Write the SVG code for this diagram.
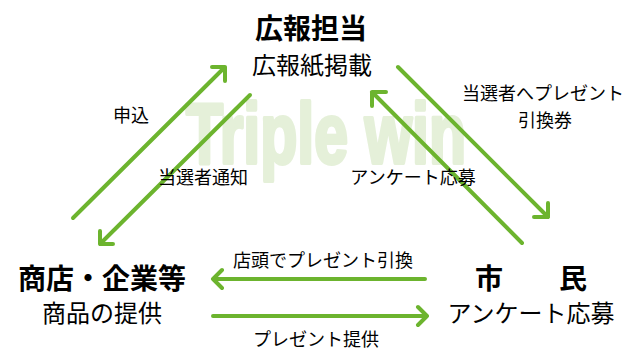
<svg xmlns="http://www.w3.org/2000/svg" width="635" height="361" viewBox="0 0 635 361">
<defs>
<style>
.t{font-family:"Noto Sans CJK JP","Noto Sans",sans-serif;fill:#000;text-anchor:middle}
.h{font-size:28px;font-weight:700}
.s{font-size:24px}
.l{font-size:18px}
.c{fill:none;stroke:#6cb42e;stroke-width:4;stroke-linecap:round;stroke-linejoin:round}
.wm{font-family:"Liberation Sans",Arial,sans-serif;font-weight:700;font-size:86px;fill:#e5f0d9;stroke:#e5f0d9;stroke-width:4;stroke-linejoin:round}
</style>
</defs>
<rect width="635" height="361" fill="#fff"/>
<text class="wm" x="186" y="163" textLength="280" lengthAdjust="spacingAndGlyphs">Triple win</text>
<g id="connectors">
<g id="c1"><path class="c" d="M73,218 L225,67 M212,67 L225,67 L225,81"/></g>
<g id="c2"><path class="c" d="M250,95 L100,244 M100,231 L100,244 L113,244"/></g>
<g id="c3"><path class="c" d="M522,243 L372,92 M386,92 L372,92 L372,106"/></g>
<g id="c4"><path class="c" d="M398,67 L548,217 M534,217 L548,217 L548,203"/></g>
<g id="c5"><path class="c" d="M425,279 L213,279 M222,270 L213,279 L222,288"/></g>
<g id="c6"><path class="c" d="M213,316 L427,316 M418,307 L427,316 L418,325"/></g>
</g>
<g id="labels">
<text class="t l" x="131" y="122">申込</text>
<text class="t l" x="203" y="184">当選者通知</text>
<text class="t l" x="543" y="100">当選者へプレゼント</text>
<text class="t l" x="545" y="127">引換券</text>
<text class="t l" x="413" y="184">アンケート応募</text>
<text class="t l" x="323" y="267">店頭でプレゼント引換</text>
<text class="t l" x="316" y="346">プレゼント提供</text>
</g>
<g id="node-koho">
<text class="t h" x="311" y="39">広報担当</text>
<text class="t s" x="312" y="74">広報紙掲載</text>
</g>
<g id="node-shoten">
<text class="t h" x="102" y="289">商店・企業等</text>
<text class="t s" x="102" y="322">商品の提供</text>
</g>
<g id="node-shimin">
<text class="t h" x="531" y="289">市　　民</text>
<text class="t s" x="531" y="322">アンケート応募</text>
</g>
</svg>
